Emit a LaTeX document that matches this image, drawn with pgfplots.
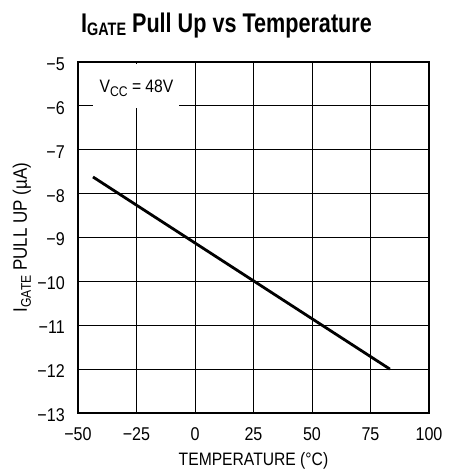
\documentclass[border=0pt]{standalone}
\usepackage{fontspec}
\setmainfont{Liberation Sans}[FakeStretch=0.87]
\newfontfamily\titlefont{Liberation Sans}[FakeStretch=0.8]
\usepackage{pgfplots}
\pgfplotsset{compat=1.18}
\begin{document}
\begin{tikzpicture}[x=1pt,y=1pt]
\useasboundingbox (-78,-59) rectangle (370,413);
\begin{axis}[
  at={(0,0)}, anchor=south west,
  scale only axis, width=351pt, height=351pt,
  xmin=-50, xmax=100, ymin=-13, ymax=-5,
  xtick={-50,-25,0,25,50,75,100},
  ytick={-13,-12,-11,-10,-9,-8,-7,-6,-5},
  xticklabels={−50,−25,0,25,50,75,100},
  yticklabels={−13,−12,−11,−10,−9,−8,−7,−6,−5},
  grid=major,
  major grid style={black, line width=0.8pt},
  major tick length=0pt,
  axis line style={line width=1.4pt},
  tick label style={font=\fontsize{18.5}{20}\selectfont},
  xticklabel style={anchor=base, inner sep=0pt, yshift=-27pt},
  yticklabel style={anchor=east, inner sep=0pt, xshift=-13pt, yshift=-2pt},
  xlabel={TEMPERATURE (°C)},
  ylabel={I\raisebox{-4pt}{\fontsize{14}{15}\selectfont GATE} PULL UP (µA)},
  xlabel style={font=\fontsize{18}{20}\selectfont, at={(rel axis cs:0.5,0)}, anchor=base, inner sep=0pt, yshift=-52pt},
  ylabel style={font=\fontsize{19.5}{21}\selectfont, at={(axis description cs:-0.16,0.5)}, anchor=center, inner sep=0pt},
  clip=false,
]
\addplot[black, line width=2.8pt] coordinates {(-43.6,-7.62) (83.3,-12.0)};
\node[fill=white, inner sep=0pt, minimum width=86pt, minimum height=44pt, anchor=north]
  at (axis cs:-25,-5.03) {};
\node[anchor=center, inner sep=0pt, font=\fontsize{18}{20}\selectfont]
  at (axis cs:-25,-5.6) {V\raisebox{-4pt}{\fontsize{14}{15}\selectfont CC} = 48V};
\end{axis}
\node[anchor=base] at (148.5,380) {\titlefont\bfseries\fontsize{27}{30}\selectfont I\raisebox{-3pt}{\fontsize{18}{20}\selectfont GATE} Pull Up vs Temperature};
\end{tikzpicture}
\end{document}
